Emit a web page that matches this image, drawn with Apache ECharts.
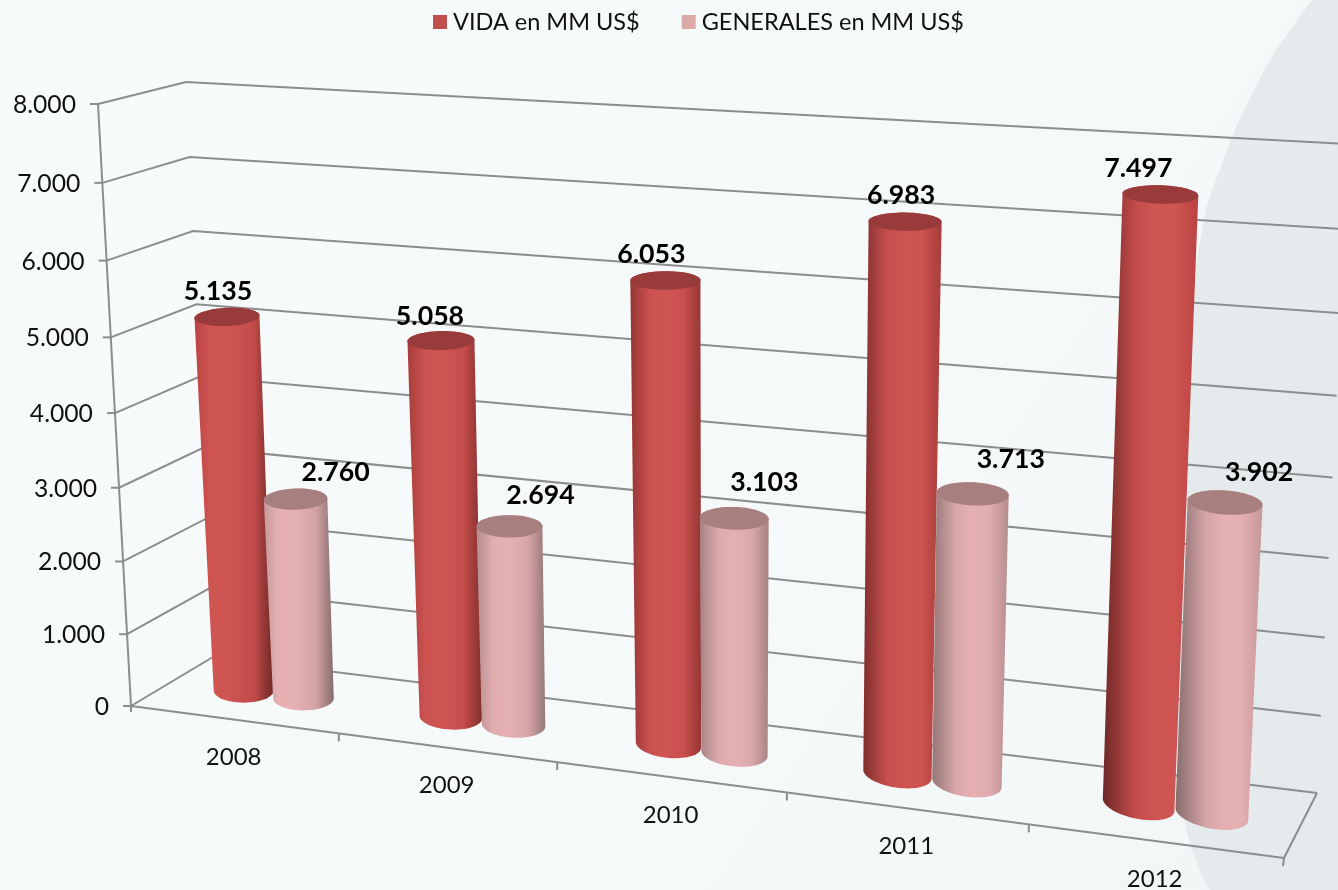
<!DOCTYPE html>
<html><head><meta charset="utf-8">
<style>html,body{margin:0;padding:0;background:#f7fafb}#c{width:1338px;height:890px}</style>
<script src="https://cdn.jsdelivr.net/npm/echarts@6/dist/echarts.min.js"></script>
</head><body><div id="c"></div>
<script>
const categories = ['2008','2009','2010','2011','2012'];
const vida = [5135,5058,6053,6983,7497];
const generales = [2760,2694,3103,3713,3902];
const yTicks = [0,1000,2000,3000,4000,5000,6000,7000,8000];
const seriesNames = ['VIDA en MM US$','GENERALES en MM US$'];
const fmt = v => v===0 ? '0' : String(Math.floor(v/1000))+'.'+String(v%1000).padStart(3,'0');

const FONT = 'Lato';
const W = 1338, H = 890;
// Quads of the 3D box on screen: bottom-left, bottom-right, top-right, top-left
const frontQuad = [[131,706],[1284,858],[1319,178],[98,104]];
const backQuad  = [[213,657],[1317,793],[1349,144],[186,82]];
function homography(q){
  const [x0,y0]=q[0],[x1,y1]=q[1],[x2,y2]=q[2],[x3,y3]=q[3];
  const dx1=x1-x2,dx2=x3-x2,sx=x0-x1+x2-x3,dy1=y1-y2,dy2=y3-y2,sy=y0-y1+y2-y3;
  const den=dx1*dy2-dx2*dy1, g=(sx*dy2-dx2*sy)/den, h=(dx1*sy-sx*dy1)/den;
  const a=x1-x0+g*x1,b=x3-x0+h*x3,d=y1-y0+g*y1,e=y3-y0+h*y3;
  return (u,v)=>{const w=g*u+h*v+1;return [(a*u+b*v+x0)/w,(d*u+e*v+y0)/w];};
}
const hf=homography(frontQuad), hb=homography(backQuad);
function project(u,v,d){const a=hf(u,v),b=hb(u,v);return [a[0]+(b[0]-a[0])*d,a[1]+(b[1]-a[1])*d];}
// pixel position inside the hidden grid -> unit coordinates of the box
function unit(api,params,cat,val){
  const c=api.coord([cat,val]),s=params.coordSys;
  return [(c[0]-s.x)/s.width,1-(c[1]-s.y)/s.height];
}
const GREY='#8b8d8e';
function seg(a,b,w){return {type:'line',shape:{x1:a[0],y1:a[1],x2:b[0],y2:b[1]},style:{stroke:GREY,lineWidth:w||2},silent:true};}
function poly(pts){return {type:'polyline',shape:{points:pts},style:{stroke:GREY,lineWidth:2,fill:null},silent:true};}

function renderWall(params,api){
  const val=api.value(1); const [,v]=unit(api,params,0,val);
  const f=project(0,v,0),bl=project(0,v,1),br=project(1,v,1);
  const children=[poly([f,bl,br]),seg([f[0]-8,f[1]],f),
    {type:'text',style:{text:fmt(val),x:f[0]-22,y:f[1]+1,align:'right',verticalAlign:'middle',font:'24.7px '+FONT,fill:'#111'}}];
  if(val===0){
    const fr=project(1,0,0),br0=project(1,0,1);
    children.push(seg(f,fr),seg(fr,br0),seg(f,[f[0],f[1]+6]),seg(fr,[fr[0]-1,fr[1]+8]));
    children.push(seg(project(0,0,0),project(0,1,0)));
  }
  return {type:'group',children};
}
function renderCat(params,api){
  const i=api.value(0);
  const [u,v]=unit(api,params,i,0);
  const p=project(u,v,0);
  const children=[{type:'text',style:{text:categories[i],x:p[0],y:p[1]+38,align:'center',verticalAlign:'middle',font:'24px '+FONT,fill:'#111'}}];
  if(i<categories.length-1){const t=project((i+1)/categories.length,0,0);children.push(seg(t,[t[0],t[1]+8]));}
  return {type:'group',children};
}
const barOff=[-0.0285,0.0302], depthMid=0.5;
const bodyMid=[[207,85,83],[230,176,178]], bodyDark=[[110,40,38],[135,108,108]], bodyLight=[[186,68,66],[196,152,153]];
const capCol=['#993b3b','#a87f7f'];
const labelDx=[[-9,-11,-14,-4,-22],[40,31,30,38,34]];
const labelDy=[[-25,-24,-26,-26,-26],[-27,-31,-36,-34,-30]];
const mix=(a,b,t)=>'rgb('+a.map((x,k)=>Math.round(x+(b[k]-x)*t)).join(',')+')';
// Circle of a cylinder seen in perspective: long axis slightly tilted, short axis vertical
function circle(u,v,f,from,to,n){
  const R=(0.0295-0.0007*f)*(1+0.08*v*(1-f));
  const c=project(u,v,depthMid),r=project(u+R,v,depthMid);
  const ax=r[0]-c[0];
  const low=(1-v)*(1-v), tilt=0.17*f*low+(-0.05+0.08*f)*(1-low);
  const ay=ax*tilt;
  const dy=Math.abs(project(u,v,depthMid+0.5)[1]-project(u,v,depthMid-0.5)[1]);
  const ry=0.18*dy+3;
  const out=[];
  for(let k=0;k<=n;k++){const t=from+(to-from)*k/n,cs=Math.cos(t),sn=Math.sin(t);
    out.push([c[0]+ax*cs,c[1]+ay*cs+ry*sn]);}
  return out;
}
function renderBar(s){return function(params,api){
  const i=api.value(0),val=api.value(1);
  const [u0,v]=unit(api,params,i,val);
  const u=u0+barOff[s];
  const f=i/(categories.length-1);
  // the dark side moves from the right on the left bars to the left on the right bars
  const grad=new echarts.graphic.LinearGradient(0,0,1,0,[
    {offset:0,color:mix(bodyLight[s],bodyDark[s],f)},
    {offset:0.2+f*0.15,color:mix(bodyMid[s],bodyLight[s],f*0.5)},
    {offset:0.45+f*0.1,color:mix(bodyMid[s],bodyMid[s],0)},
    {offset:0.75,color:mix(bodyMid[s],bodyLight[s],(1-f)*0.6)},
    {offset:1,color:mix(bodyDark[s],bodyLight[s],f)}]);
  const bottomArc=circle(u,0,f,Math.PI,0,28);   // left -> front -> right of the base circle (y grows downward)
  const topArc=circle(u,v,f,0,-Math.PI,28);     // right -> back -> left of the top circle
  const cap=circle(u,v,f,0,Math.PI*2,56);
  const top=project(u,v,depthMid);
  return {type:'group',children:[
    {type:'polygon',shape:{points:bottomArc.concat(topArc)},style:{fill:grad},silent:true},
    {type:'polygon',shape:{points:cap},style:{fill:capCol[s]},silent:true},
    {type:'text',z2:100,style:{text:fmt(val),x:top[0]+labelDx[s][i],y:top[1]+labelDy[s][i],align:'center',verticalAlign:'middle',font:'bold 26.7px '+FONT,fill:'#000'}}
  ]};
};}
const chart=echarts.init(document.getElementById('c'),null,{renderer:'canvas',width:W,height:H});
chart.setOption({
  animation:false,
  backgroundColor:new echarts.graphic.LinearGradient(0,0,1,1,[{offset:0,color:'#f8fbfc'},{offset:0.6,color:'#f6f9fa'},{offset:1,color:'#f3f6f7'}]),
  graphic:[{type:'polygon',z:-10,silent:true,
    shape:{points:[[1313,0],[1270,60],[1237,125],[1206,210],[1175,400],[1168,600],[1185,823],[1211,890],[1338,890],[1338,0]],smooth:0.15},
    style:{fill:'#e5ebed'}}],
  legend:{data:seriesNames,top:5,left:428,icon:'rect',itemWidth:14,itemHeight:14,itemGap:42,
    textStyle:{fontFamily:FONT,fontSize:23.5,color:'#111',padding:[0,0,0,1]}},
  grid:{left:0,right:0,top:0,bottom:0,containLabel:false},
  xAxis:{type:'category',data:categories,show:false},
  yAxis:{type:'value',min:0,max:8000,interval:1000,show:false},
  series:[
    {type:'custom',name:'walls',renderItem:renderWall,data:yTicks.map(v=>[0,v]),clip:false,silent:true,z:1},
    {type:'custom',name:'cats',renderItem:renderCat,data:categories.map((c,i)=>[i,0]),clip:false,silent:true,z:1},
    {type:'custom',name:seriesNames[0],renderItem:renderBar(0),data:vida.map((v,i)=>[i,v]),itemStyle:{color:'#c0504d'},clip:false,z:2},
    {type:'custom',name:seriesNames[1],renderItem:renderBar(1),data:generales.map((v,i)=>[i,v]),itemStyle:{color:'#dca9a9'},clip:false,z:3}
  ]
});
</script></body></html>
